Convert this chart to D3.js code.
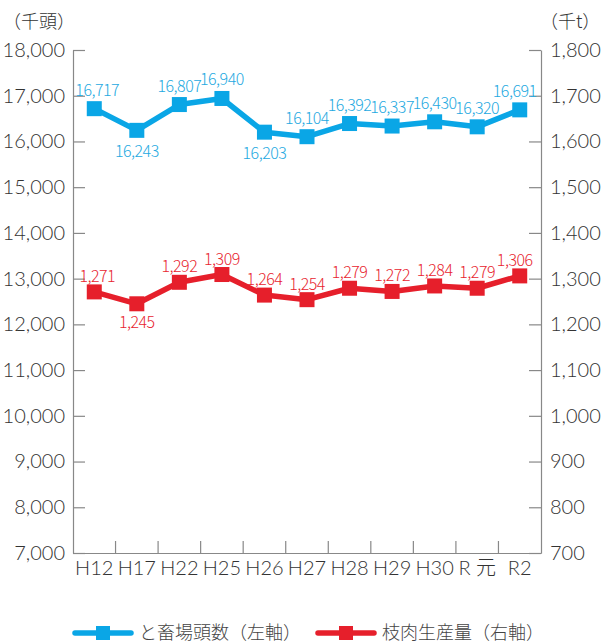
<!DOCTYPE html>
<html>
<head>
<meta charset="utf-8">
<script src="https://cdn.jsdelivr.net/npm/d3@7"></script>
<style>
  body { margin: 0; background: #fff; }
  svg text { font-family: "Noto Sans CJK JP", "Noto Sans", sans-serif; }
  svg text.num { font-family: Lato, "Noto Sans CJK JP", sans-serif; }
</style>
</head>
<body>
<svg id="chart"></svg>
<script>
// chart data
var years = ["H12", "H17", "H22", "H25", "H26", "H27", "H28", "H29", "H30", "R 元", "R2"];
var heads = [16717, 16243, 16807, 16940, 16203, 16104, 16392, 16337, 16430, 16320, 16691]; // 千頭
var meat = [1271, 1245, 1292, 1309, 1264, 1254, 1279, 1272, 1284, 1279, 1306]; // 千t
var leftTicks = [7000, 8000, 9000, 10000, 11000, 12000, 13000, 14000, 15000, 16000, 17000, 18000];
var rightTicks = [700, 800, 900, 1000, 1100, 1200, 1300, 1400, 1500, 1600, 1700, 1800];
var seriesNames = ["と畜場頭数（左軸）", "枝肉生産量（右軸）"];

// labels that sit under their point
var headsBelow = [1, 4];
var meatBelow = [1];

var W = 605, H = 643;
var blue = "#0aa6e6", red = "#e61f2b";
var blueText = "#24a9e1", redText = "#e8252f";

var svg = d3.select("#chart").attr("width", W).attr("height", H);

var x = d3.scaleBand().domain(years).range([73, 541]);
var yL = d3.scaleLinear().domain([7000, 18000]).range([553, 50]);
var yR = d3.scaleLinear().domain([700, 1800]).range([553, 50]);
var cx = function(d, i) { return x(years[i]) + x.bandwidth() / 2; };

function styleAxis(g) {
  g.select(".domain").attr("stroke", "#888").attr("stroke-width", 1.2);
  g.selectAll(".tick line").attr("stroke", "#888").attr("stroke-width", 1.2);
  g.selectAll(".tick text").attr("class", "num").attr("fill", "#333")
      .style("font-size", "20px").style("font-weight", 300);
}

// left axis
svg.append("g")
    .attr("transform", "translate(73,0)")
    .call(d3.axisLeft(yL).tickValues(leftTicks).tickFormat(d3.format(",")).tickSizeInner(-12).tickSizeOuter(0).tickPadding(8))
    .call(styleAxis)
    .attr("font-family", null);

// right axis
svg.append("g")
    .attr("transform", "translate(541,0)")
    .call(d3.axisRight(yR).tickValues(rightTicks).tickFormat(d3.format(",")).tickSizeInner(-12).tickSizeOuter(0).tickPadding(9))
    .call(styleAxis)
    .attr("font-family", null);

// bottom axis - labels centered, ticks on band boundaries
var xAxisG = svg.append("g")
    .attr("transform", "translate(0,553)")
    .call(d3.axisBottom(x).tickSize(0).tickPadding(6))
    .call(styleAxis)
    .attr("font-family", null);
xAxisG.selectAll(".tick text").style("font-size", "20px").attr("dy", "0.8em");
svg.append("g").selectAll("line")
    .data(years.slice(1))
  .enter().append("line")
    .attr("x1", function(d) { return x(d); })
    .attr("x2", function(d) { return x(d); })
    .attr("y1", 553).attr("y2", 541)
    .attr("stroke", "#888").attr("stroke-width", 1.2);

// unit labels
svg.append("text").attr("x", 3).attr("y", 28).attr("fill", "#333")
    .style("font-size", "18px").style("font-weight", 300).text("（千頭）");
svg.append("text").attr("x", 540).attr("y", 28).attr("fill", "#333")
    .style("font-size", "18px").style("font-weight", 300).text("（千t）");

function drawSeries(values, y, color, textColor, below, upOff, downOff) {
  var line = d3.line().x(cx).y(function(d) { return y(d); });
  svg.append("path").datum(values)
      .attr("d", line)
      .attr("fill", "none")
      .attr("stroke", color)
      .attr("stroke-width", 5.5)
      .attr("stroke-linejoin", "round");
  svg.append("g").selectAll("rect")
      .data(values)
    .enter().append("rect")
      .attr("x", function(d, i) { return cx(d, i) - 7.5; })
      .attr("y", function(d) { return y(d) - 7.5; })
      .attr("width", 15).attr("height", 15)
      .attr("fill", color);
  svg.append("g").selectAll("text")
      .data(values)
    .enter().append("text")
      .attr("x", function(d, i) {
        var dx = i === 0 ? 3 : (i === values.length - 1 ? -5 : 0);
        return cx(d, i) + dx;
      })
      .attr("y", function(d, i) { return below.indexOf(i) >= 0 ? y(d) + downOff : y(d) - upOff; })
      .attr("text-anchor", "middle")
      .attr("fill", textColor)
      .style("font-size", "16px")
      .style("font-weight", 300)
      .style("letter-spacing", "-0.5px")
      .text(d3.format(","));
}

drawSeries(heads, yL, blue, blueText, headsBelow, 13, 27);
drawSeries(meat, yR, red, redText, meatBelow, 10, 24);

// legend
var legend = svg.append("g").selectAll("g")
    .data(seriesNames)
  .enter().append("g")
    .attr("transform", function(d, i) { return "translate(" + (i === 0 ? 75 : 318) + ",633)"; });
legend.append("line")
    .attr("x1", 0).attr("x2", 56).attr("y1", 0).attr("y2", 0)
    .attr("stroke", function(d, i) { return i === 0 ? blue : red; })
    .attr("stroke-width", 5.5).attr("stroke-linecap", "round");
legend.append("rect")
    .attr("x", 21).attr("y", -7).attr("width", 14).attr("height", 14)
    .attr("fill", function(d, i) { return i === 0 ? blue : red; });
legend.append("text")
    .attr("x", 64).attr("y", 0).attr("dy", "0.35em")
    .attr("fill", "#444")
    .style("font-size", "18px")
    .style("font-weight", 300)
    .text(function(d) { return d; });
</script>
</body>
</html>
